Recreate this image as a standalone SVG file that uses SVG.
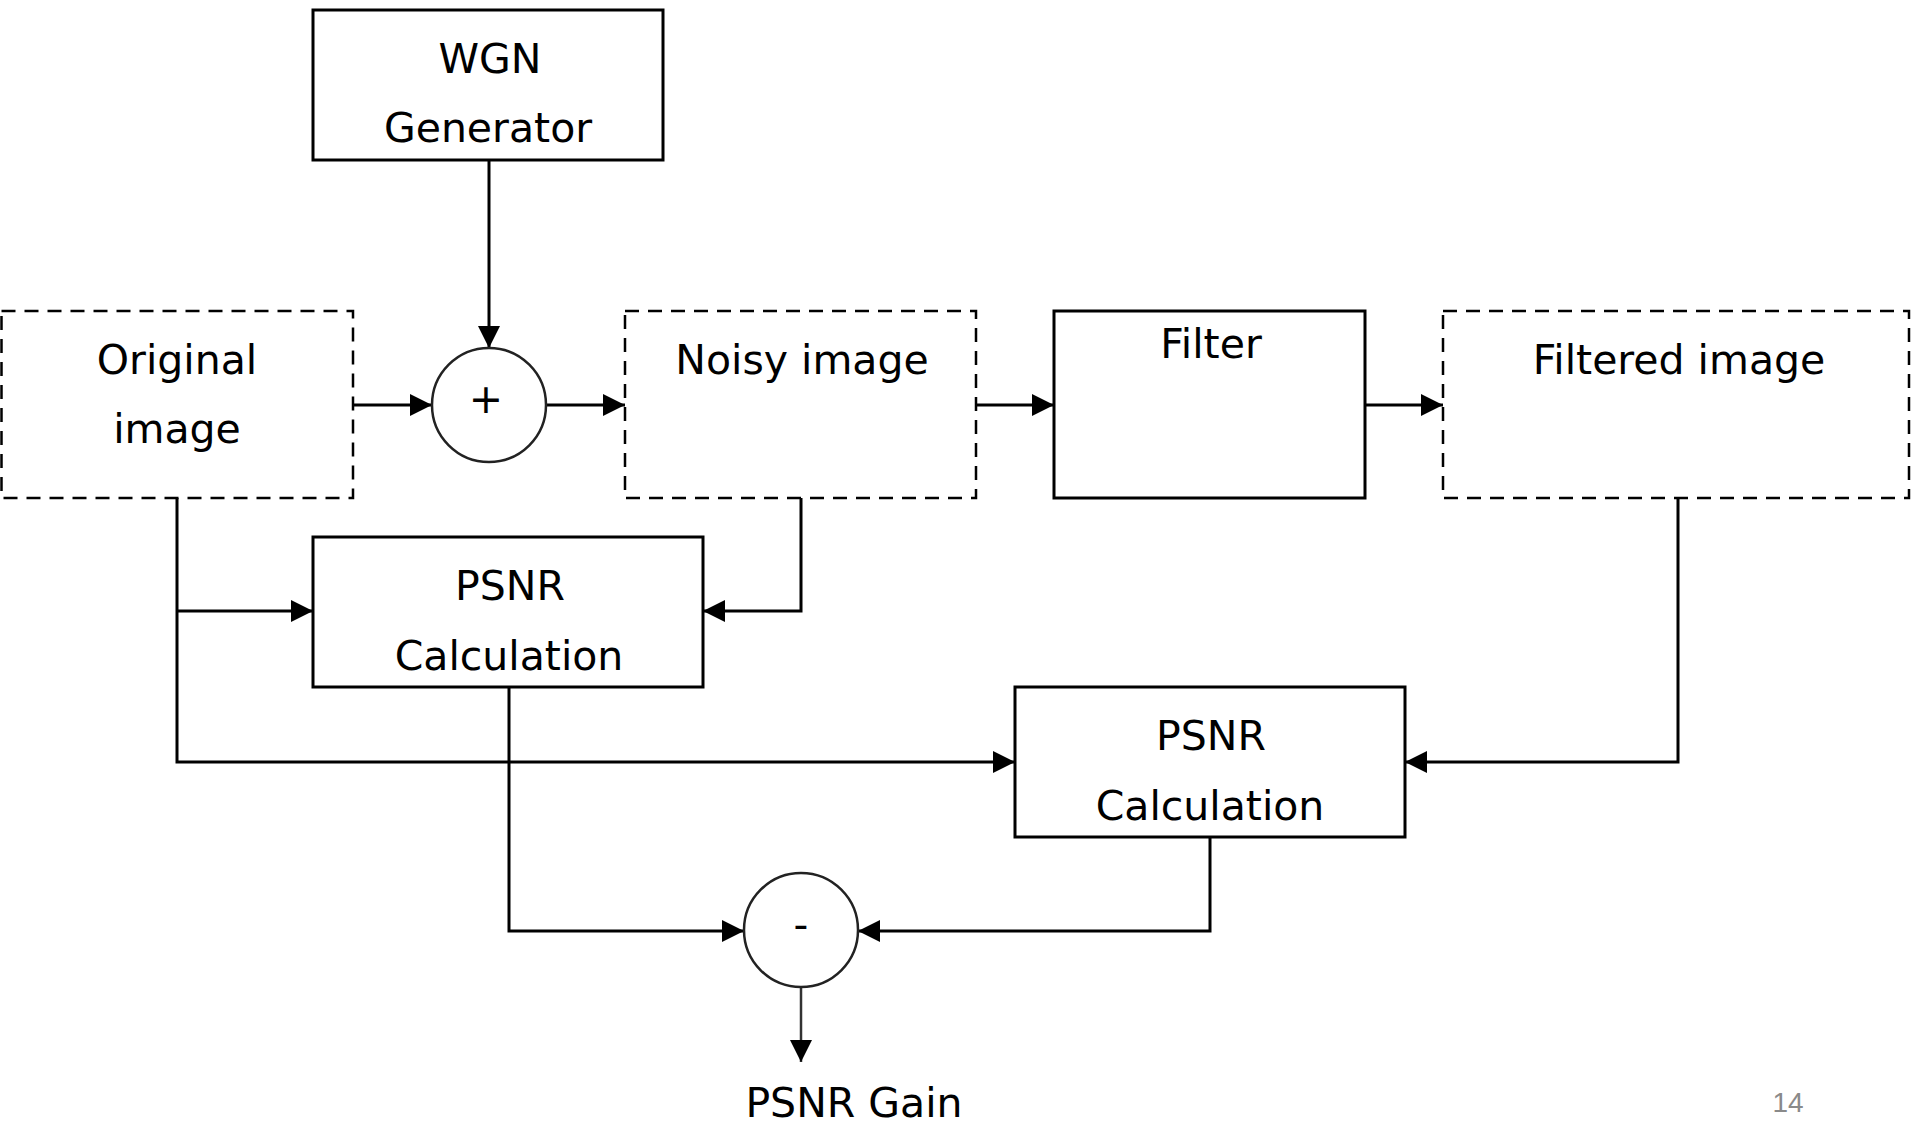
<svg xmlns="http://www.w3.org/2000/svg" width="1911" height="1127" viewBox="0 0 1911 1127">
<style>
.box{fill:#fff;stroke:#000;stroke-width:3}
.dash{fill:#fff;stroke:#000;stroke-width:2.5;stroke-dasharray:14 9}
.sum{fill:#fff;stroke:#222;stroke-width:2.5}
.lbl{font-family:"DejaVu Sans",sans-serif;font-size:41px;fill:#000;text-anchor:middle}
.edge{fill:none;stroke:#000;stroke-width:3;marker-end:url(#ah)}
</style>
<defs>
<marker id="ah" markerUnits="userSpaceOnUse" markerWidth="22" markerHeight="22" viewBox="0 0 22 22" refX="22" refY="11" orient="auto">
<path d="M0,0 L22,11 L0,22 Z" fill="#000"/>
</marker>
</defs>
<rect width="1911" height="1127" fill="#fff"/>
<g id="connectors">
<path class="edge" d="M489,160 V348"/>
<path class="edge" d="M353,405 H432"/>
<path class="edge" d="M546,405 H625"/>
<path class="edge" d="M976,405 H1054"/>
<path class="edge" d="M1365,405 H1443"/>
<path class="edge" d="M177,498 V762 H1015"/>
<path class="edge" d="M177,611 H313"/>
<path class="edge" d="M801,498 V611 H703"/>
<path class="edge" d="M1678,498 V762 H1405"/>
<path class="edge" d="M509,687 V931 H744"/>
<path class="edge" d="M1210,837 V931 H858"/>
<path class="edge" style="stroke:#333;stroke-width:2.5" d="M801,987 V1062"/>
</g>
<g id="wgn">
<rect class="box" x="313" y="10" width="350" height="150"/>
<text class="lbl" x="490" y="73">WGN</text>
<text class="lbl" x="488" y="142">Generator</text>
</g>
<g id="original">
<rect class="dash" x="1.5" y="311" width="351.5" height="187"/>
<text class="lbl" x="177" y="374">Original</text>
<text class="lbl" x="177" y="443">image</text>
</g>
<g id="adder">
<circle class="sum" cx="489" cy="405" r="57"/>
<text class="lbl" x="486" y="413">+</text>
</g>
<g id="noisy">
<rect class="dash" x="625" y="311" width="351" height="187"/>
<text class="lbl" x="802" y="374">Noisy image</text>
</g>
<g id="filter">
<rect class="box" x="1054" y="311" width="311" height="187"/>
<text class="lbl" x="1211" y="358">Filter</text>
</g>
<g id="filtered">
<rect class="dash" x="1443" y="311" width="466" height="187"/>
<text class="lbl" x="1679" y="374">Filtered image</text>
</g>
<g id="psnr1">
<rect class="box" x="313" y="537" width="390" height="150"/>
<text class="lbl" x="510" y="600">PSNR</text>
<text class="lbl" x="509" y="670">Calculation</text>
</g>
<g id="psnr2">
<rect class="box" x="1015" y="687" width="390" height="150"/>
<text class="lbl" x="1211" y="750">PSNR</text>
<text class="lbl" x="1210" y="820">Calculation</text>
</g>
<g id="subtract">
<circle class="sum" cx="801" cy="930" r="57"/>
<text class="lbl" x="801" y="939">-</text>
</g>
<g id="gain">
<text class="lbl" x="854" y="1117">PSNR Gain</text>
</g>
<text x="1788" y="1112" font-family="'Liberation Sans',sans-serif" font-size="28" fill="#8a8a8a" text-anchor="middle">14</text>
</svg>
